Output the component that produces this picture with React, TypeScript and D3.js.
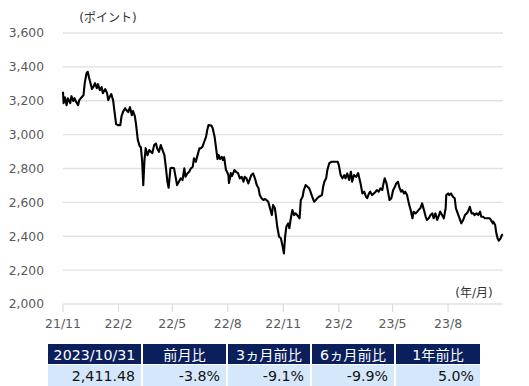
import React from "react";
import * as d3 from "d3";

const dates: string[] = [
  "2021-11-01","2021-11-02","2021-11-04","2021-11-07","2021-11-09","2021-11-13","2021-11-15","2021-11-18","2021-11-20","2021-11-23","2021-11-26","2021-11-28",
  "2021-12-02","2021-12-05","2021-12-07","2021-12-10","2021-12-12","2021-12-14","2021-12-17","2021-12-19","2021-12-22","2021-12-24","2021-12-27","2021-12-29",
  "2022-01-01","2022-01-04","2022-01-06","2022-01-10","2022-01-13","2022-01-15","2022-01-18","2022-01-20","2022-01-23","2022-01-25","2022-01-28","2022-01-31",
  "2022-02-04","2022-02-06","2022-02-09","2022-02-12","2022-02-14","2022-02-17","2022-02-20","2022-02-23","2022-02-25","2022-02-28",
  "2022-03-02","2022-03-04","2022-03-05","2022-03-08","2022-03-10","2022-03-12","2022-03-14","2022-03-16","2022-03-18","2022-03-21","2022-03-24","2022-03-27","2022-03-29",
  "2022-04-01","2022-04-04","2022-04-06","2022-04-09","2022-04-12","2022-04-15","2022-04-18","2022-04-20","2022-04-23","2022-04-25","2022-04-28",
  "2022-05-01","2022-05-04","2022-05-07","2022-05-09","2022-05-12","2022-05-15","2022-05-18","2022-05-21","2022-05-23","2022-05-26","2022-05-29",
  "2022-06-01","2022-06-04","2022-06-06","2022-06-09","2022-06-12","2022-06-15","2022-06-17","2022-06-20","2022-06-23","2022-06-26","2022-06-28","2022-06-30",
  "2022-07-05","2022-07-07","2022-07-10","2022-07-12","2022-07-15","2022-07-17","2022-07-19","2022-07-22","2022-07-24","2022-07-26","2022-07-29","2022-07-31",
  "2022-08-02","2022-08-03","2022-08-06","2022-08-08","2022-08-12","2022-08-15","2022-08-18","2022-08-21","2022-08-24","2022-08-27","2022-08-29",
  "2022-09-01","2022-09-04","2022-09-07","2022-09-09","2022-09-12","2022-09-15","2022-09-18","2022-09-21","2022-09-23","2022-09-26","2022-09-29",
  "2022-10-02","2022-10-04","2022-10-07","2022-10-10","2022-10-13","2022-10-15","2022-10-18","2022-10-20","2022-10-22","2022-10-25","2022-10-28","2022-10-31",
  "2022-11-02","2022-11-04","2022-11-06","2022-11-09","2022-11-11","2022-11-13","2022-11-16","2022-11-19","2022-11-21","2022-11-24","2022-11-28","2022-11-30",
  "2022-12-03","2022-12-05","2022-12-08","2022-12-11","2022-12-14","2022-12-16","2022-12-19","2022-12-22","2022-12-25","2022-12-27","2022-12-30",
  "2023-01-04","2023-01-06","2023-01-08","2023-01-11","2023-01-13","2023-01-16","2023-01-20","2023-01-24","2023-01-30",
  "2023-02-01","2023-02-04","2023-02-07","2023-02-10","2023-02-12","2023-02-15","2023-02-18","2023-02-21","2023-02-23","2023-02-26",
  "2023-03-02","2023-03-05","2023-03-09","2023-03-12","2023-03-15","2023-03-18","2023-03-20","2023-03-23","2023-03-25","2023-03-28","2023-03-31",
  "2023-04-03","2023-04-05","2023-04-08","2023-04-11","2023-04-14","2023-04-16","2023-04-18","2023-04-21","2023-04-24","2023-04-26","2023-04-29",
  "2023-05-02","2023-05-05","2023-05-07","2023-05-10","2023-05-12","2023-05-15","2023-05-17","2023-05-20","2023-05-22","2023-05-25","2023-05-28","2023-05-31",
  "2023-06-03","2023-06-05","2023-06-08","2023-06-11","2023-06-13","2023-06-16","2023-06-19","2023-06-22","2023-06-25","2023-06-27","2023-06-30",
  "2023-07-03","2023-07-06","2023-07-08","2023-07-11","2023-07-14","2023-07-17","2023-07-19","2023-07-22","2023-07-25","2023-07-28","2023-07-29",
  "2023-08-01","2023-08-03","2023-08-06","2023-08-09","2023-08-12","2023-08-14","2023-08-17","2023-08-20","2023-08-23","2023-08-26","2023-08-29",
  "2023-09-01","2023-09-03","2023-09-06","2023-09-09","2023-09-12","2023-09-14","2023-09-17","2023-09-20","2023-09-23","2023-09-25","2023-09-28",
  "2023-10-01","2023-10-05","2023-10-09","2023-10-11","2023-10-14","2023-10-15","2023-10-18","2023-10-20","2023-10-22","2023-10-24","2023-10-27","2023-10-29","2023-10-31",
];

const values: number[] = [
  3253,3186,3221,3174,3215,3186,3227,3198,3215,3192,3174,3204,
  3221,3233,3304,3363,3371,3339,3298,3269,3286,3304,3274,3298,
  3263,3280,3245,3269,3245,3204,3227,3239,3204,3145,3062,3056,
  3056,3109,3139,3156,3145,3133,3162,3115,3139,3109,
  3062,2997,2968,2932,2926,2850,2702,2850,2920,2879,2909,2897,2891,
  2938,2948,2920,2898,2938,2909,2879,2820,2722,2686,2801,
  2804,2801,2742,2702,2722,2742,2732,2801,2751,2771,2781,
  2801,2810,2860,2840,2879,2919,2919,2928,2958,2987,3027,3056,
  3053,3038,2991,2938,2856,2879,2856,2869,2850,2867,2791,2779,
  2761,2714,2773,2755,2791,2779,2773,2742,2751,2722,2751,
  2742,2712,2742,2761,2771,2742,2702,2683,2643,2624,2614,
  2620,2614,2604,2565,2525,2584,2566,2515,2456,2397,2388,2338,
  2299,2397,2456,2476,2447,2496,2555,2525,2535,2525,2506,2614,
  2633,2673,2702,2692,2683,2663,2633,2604,2614,2624,2633,
  2643,2692,2722,2742,2791,2830,2840,2840,2840,
  2820,2761,2742,2761,2742,2771,2732,2781,2722,2761,
  2751,2773,2712,2653,2663,2633,2625,2653,2663,2643,2653,
  2663,2673,2663,2683,2673,2712,2742,2712,2653,2614,2624,
  2673,2692,2712,2722,2692,2663,2673,2653,2663,2643,2594,2555,
  2506,2545,2535,2545,2555,2565,2594,2555,2515,2496,2506,
  2525,2535,2506,2535,2496,2525,2545,2525,2506,2565,2643,
  2653,2643,2653,2633,2624,2565,2535,2506,2476,2496,2525,
  2535,2545,2574,2535,2535,2525,2535,2525,2545,2515,2515,
  2506,2506,2506,2496,2476,2486,2466,2417,2388,2374,2388,2407,2411.48,
];

const yTicks: number[] = [2000, 2200, 2400, 2600, 2800, 3000, 3200, 3400, 3600];
const xTickDates: string[] = ["2021-11-01","2022-02-01","2022-05-01","2022-08-01","2022-11-01","2023-02-01","2023-05-01","2023-08-01"];
const xTickLabels: string[] = ["21/11","22/2","22/5","22/8","22/11","23/2","23/5","23/8"];
const domainDates: string[] = ["2021-11-01", "2023-10-31"];

const yUnitLabel = "(ポイント)";
const xUnitLabel = "(年/月)";

const tableHeaders: string[] = ["2023/10/31", "前月比", "3ヵ月前比", "6ヵ月前比", "1年前比"];
const tableValues: string[] = ["2,411.48", "-3.8%", "-9.1%", "-9.9%", "5.0%"];

const W = 529;
const H = 386;
const plot = { left: 63, right: 503, top: 33, bottom: 304 };
const colEdges = [48, 142, 227, 311, 395, 481];
const FONT = "'DejaVu Sans', 'Noto Sans CJK JP', sans-serif";

export default function App() {
  const parse = d3.timeParse("%Y-%m-%d");
  const x = d3
    .scaleTime()
    .domain(domainDates.map((d) => parse(d) as Date))
    .range([plot.left, plot.right]);
  const y = d3.scaleLinear().domain([2000, 3600]).range([plot.bottom, plot.top]);

  const pts = dates.map((d, i) => ({ date: parse(d) as Date, v: values[i] }));
  const line = d3
    .line<{ date: Date; v: number }>()
    .x((d) => x(d.date))
    .y((d) => y(d.v));

  const fmt = d3.format(",");

  return (
    <svg
      width={W}
      height={H}
      style={{ position: "absolute", left: 0, top: 0, background: "#fff" }}
      fontFamily={FONT}
    >
      {yTicks.map((t) => (
        <line
          key={t}
          x1={plot.left}
          x2={plot.right}
          y1={y(t)}
          y2={y(t)}
          stroke="#e2e2e2"
          strokeWidth={1.4}
        />
      ))}
      {xTickDates.map((d) => {
        const xx = x(parse(d) as Date);
        return (
          <line key={d} x1={xx} x2={xx} y1={plot.bottom} y2={plot.bottom + 8} stroke="#dcdcdc" strokeWidth={1.2} />
        );
      })}
      {yTicks.map((t) => (
        <text
          key={t}
          x={44}
          y={y(t)}
          dy="0.36em"
          textAnchor="end"
          fontSize={12.3}
          fill="#595959"
        >
          {fmt(t)}
        </text>
      ))}
      {xTickDates.map((d, i) => (
        <text
          key={d}
          x={x(parse(d) as Date)}
          y={327.5}
          textAnchor="middle"
          fontSize={12.5}
          fill="#595959"
        >
          {xTickLabels[i]}
        </text>
      ))}
      <text x={108} y={22} textAnchor="middle" fontSize={12} fill="#333">
        {yUnitLabel}
      </text>
      <text x={474} y={297} textAnchor="middle" fontSize={12} fill="#333">
        {xUnitLabel}
      </text>
      <path d={line(pts) || ""} fill="none" stroke="#000" strokeWidth={2.1} strokeLinejoin="round" />

      {tableHeaders.map((h, i) => {
        const x0 = colEdges[i] + (i === 0 ? 0 : 1);
        const x1 = colEdges[i + 1] - 1;
        return (
          <g key={h}>
            <rect x={x0} y={344} width={x1 - x0} height={20} fill="#0b1f5c" />
            <rect x={x0} y={365} width={x1 - x0} height={22} fill="#d5e8fb" />
            <text
              x={(x0 + x1) / 2}
              y={354.5}
              dy="0.36em"
              textAnchor="middle"
              fontSize={14.2}
              fill="#fff"
            >
              {h}
            </text>
            <text x={x1 - 6} y={376} dy="0.36em" textAnchor="end" fontSize={14.2} fill="#111">
              {tableValues[i]}
            </text>
          </g>
        );
      })}
    </svg>
  );
}
